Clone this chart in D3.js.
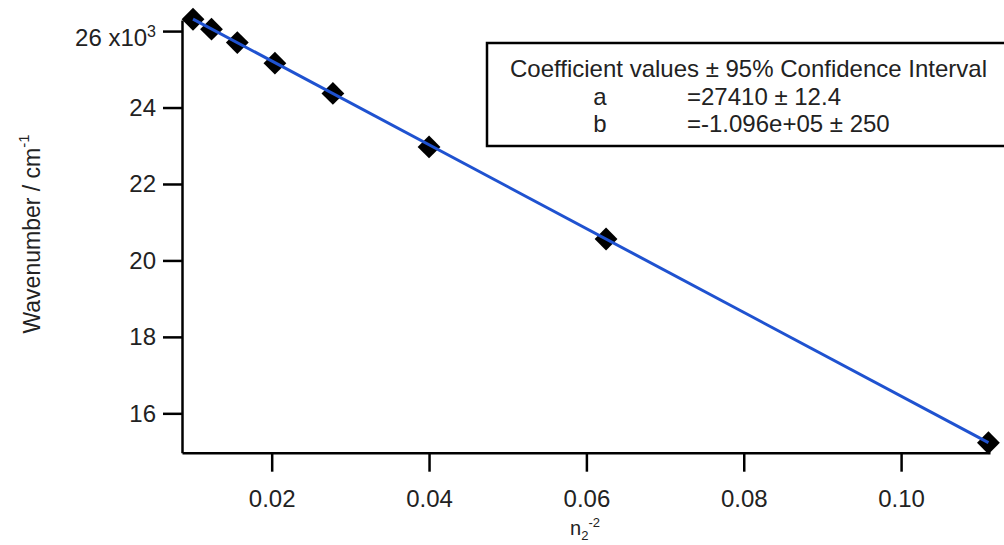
<!DOCTYPE html>
<html lang="en">
<head>
  <meta charset="UTF-8">
  <script src="https://cdn.jsdelivr.net/npm/d3@7"></script>
  <title>Wavenumber vs n2^-2</title>
  <style>
    body { margin: 0; background: #fff; }
    text { font-family: "Liberation Sans", Arial, sans-serif; fill: #222; }
  </style>
</head>
<body>
  <script>
      // data: x = n2^-2, y = wavenumber in cm^-1
      var nInvSq = [0.1111, 0.0625, 0.04, 0.02778, 0.02041, 0.01563, 0.01235, 0.01];
      var wavenumber = [15230, 20560, 22970, 24370, 25160, 25700, 26050, 26310];

      // ends of the fitted line
      var fitX = [0.01, 0.1111];
      var fitY = [26314, 15232];

      var xTicks = [0.02, 0.04, 0.06, 0.08, 0.10];
      var yTicks = [16000, 18000, 20000, 22000, 24000, 26000];

      var coefNames = ["a", "b"];
      var coefValues = ["=27410 \u00b1 12.4", "=-1.096e+05 \u00b1 250"];

      var width = 1004, height = 545;
      var fs = 24;

      var svg = d3.select("body")
        .append("svg")
        .attr("width", width)
        .attr("height", height);

      var x = d3.scaleLinear().domain([0.0086, 0.1113]).range([182, 990]);
      var y = d3.scaleLinear().domain([14970, 26290]).range([452.7, 20]);

      // x axis
      var xAxis = svg.append("g")
        .attr("transform", "translate(0," + y.range()[0] + ")")
        .call(d3.axisBottom(x).tickValues(xTicks).tickSize(19).tickSizeOuter(0)
          .tickPadding(18).tickFormat(d3.format(".2f")));

      // y axis
      var yAxis = svg.append("g")
        .attr("transform", "translate(" + x.range()[0] + ",0)")
        .call(d3.axisLeft(y).tickValues(yTicks).tickSize(19).tickSizeOuter(0)
          .tickPadding(7).tickFormat(function(d){ return d / 1000; }));

      [xAxis, yAxis].forEach(function(a){
        a.select(".domain").attr("stroke", "#000").attr("stroke-width", 2.5);
        a.selectAll(".tick line").attr("stroke", "#000").attr("stroke-width", 2.5);
        a.selectAll("text").style("font-size", fs + "px").attr("fill", "#222");
      });

      // top label gets the multiplier
      yAxis.selectAll(".tick text").filter(function(d){ return d === 26000; })
        .each(function(){
          var t = d3.select(this).text("").attr("dy", "0.62em");
          t.append("tspan").text("26 x10");
          t.append("tspan").text("3").attr("dy", "-0.6em").style("font-size", "16px");
        });

      // markers
      var diamond = d3.symbol().type(d3.symbolSquare).size(260);
      svg.append("g").selectAll("path")
        .data(nInvSq)
        .enter()
        .append("path")
        .attr("d", diamond)
        .attr("transform", function(d, i){
          return "translate(" + x(d) + "," + y(wavenumber[i]) + ") rotate(45)";
        })
        .attr("fill", "#000");

      // fit line on top
      var line = d3.line()
        .x(function(d){ return x(d); })
        .y(function(d, i){ return y(fitY[i]); });

      svg.append("path")
        .datum(fitX)
        .attr("d", line)
        .attr("fill", "none")
        .attr("stroke", "#1f52d0")
        .attr("stroke-width", 3);

      // axis titles
      var xTitle = svg.append("text")
        .attr("x", 585)
        .attr("y", 535)
        .attr("text-anchor", "middle")
        .style("font-size", "20px");
      xTitle.append("tspan").text("n");
      xTitle.append("tspan").text("2").attr("dy", 5).style("font-size", "13px");
      xTitle.append("tspan").text("-2").attr("dy", -13).style("font-size", "13px");

      var yTitle = svg.append("text")
        .attr("transform", "translate(40,234) rotate(-90)")
        .attr("text-anchor", "middle")
        .style("font-size", "23px");
      yTitle.append("tspan").text("Wavenumber / cm");
      yTitle.append("tspan").text("-1").attr("dy", -11).style("font-size", "15px");

      // coefficient box
      var box = svg.append("g");
      box.append("rect")
        .attr("x", 487)
        .attr("y", 43)
        .attr("width", 525)
        .attr("height", 103)
        .attr("fill", "#fff")
        .attr("stroke", "#000")
        .attr("stroke-width", 2.5);

      box.append("text")
        .attr("x", 510)
        .attr("y", 77)
        .style("font-size", fs + "px")
        .text("Coefficient values \u00b1 95% Confidence Interval");

      box.selectAll("text.name").data(coefNames).enter()
        .append("text")
        .classed("name", true)
        .attr("x", 600)
        .attr("y", function(d, i){ return 105 + i * 27; })
        .attr("text-anchor", "middle")
        .style("font-size", fs + "px")
        .text(function(d){ return d; });

      box.selectAll("text.val").data(coefValues).enter()
        .append("text")
        .classed("val", true)
        .attr("x", 687)
        .attr("y", function(d, i){ return 105 + i * 27; })
        .style("font-size", fs + "px")
        .text(function(d){ return d; });
  </script>
</body>
</html>
